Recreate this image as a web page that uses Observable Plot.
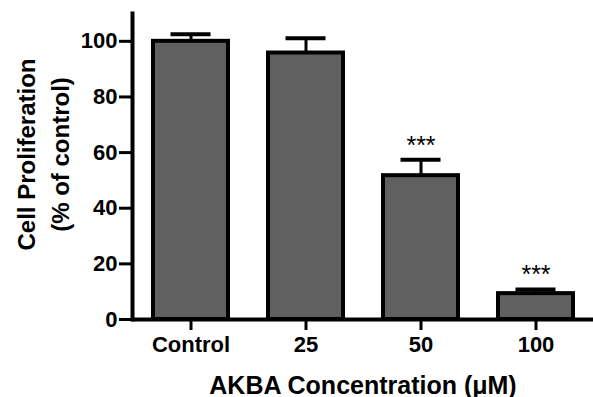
<!DOCTYPE html>
<html>
<head>
<meta charset="utf-8">
<script src="https://cdn.jsdelivr.net/npm/d3@7"></script>
<script src="https://cdn.jsdelivr.net/npm/@observablehq/plot@0.6"></script>
<style>
  html, body { margin: 0; padding: 0; background: white; }
</style>
</head>
<body>
<div id="chart"></div>
<script>
const categories = ["Control", "25", "50", "100"];
const means = [100, 95.8, 51.7, 9.3];
const sems = [2.5, 5.3, 5.7, 1.5];
const significance = ["", "", "***", "***"];
const yTicks = [0, 20, 40, 60, 80, 100];

const data = categories.map((c, i) => ({cat: c, mean: means[i], sem: sems[i], sig: significance[i]}));

const chart = Plot.plot({
  width: 593,
  height: 397,
  marginLeft: 132,
  marginRight: 0,
  marginTop: 13,
  marginBottom: 78,
  style: {fontFamily: "'Liberation Sans', Arial, sans-serif", fontWeight: "bold", background: "white", color: "black"},
  x: {domain: categories, paddingInner: 0.35, paddingOuter: 0.175, label: null},
  y: {domain: [0, 110], label: null},
  marks: [
    Plot.axisY({ticks: yTicks, tickSize: 13, tickPadding: 2, strokeWidth: 3, fontSize: 22, fontWeight: "bold", label: null}),
    Plot.axisX({tickSize: 11, tickPadding: 6, strokeWidth: 3, fontSize: 22, fontWeight: "bold", label: null}),
    Plot.ruleX(data, {x: "cat", y1: "mean", y2: d => d.mean + d.sem, strokeWidth: 3}),
    Plot.tickY(data, {x: "cat", y: d => d.mean + d.sem, strokeWidth: 4, inset: 17.5}),
    Plot.barY(data, {x: "cat", y: "mean", fill: "#606060", stroke: "black", strokeWidth: 4}),
    Plot.text(data, {x: "cat", y: d => d.mean + d.sem, text: "sig", dy: -14, fontSize: 25, fontWeight: "normal"}),
    Plot.frame({anchor: "left", strokeWidth: 4}),
    Plot.ruleY([0], {strokeWidth: 4}),
    Plot.text(["Cell Proliferation"], {frameAnchor: "left", textAnchor: "middle", lineAnchor: "middle", rotate: -90, dx: -105, dy: -12, fontSize: 24, fontWeight: "bold"}),
    Plot.text(["(% of control)"], {frameAnchor: "left", textAnchor: "middle", lineAnchor: "middle", rotate: -90, dx: -71, dy: -12, fontSize: 24, fontWeight: "bold"}),
    Plot.text(["AKBA Concentration (μM)"], {frameAnchor: "bottom", textAnchor: "middle", lineAnchor: "middle", dy: 66, fontSize: 25, fontWeight: "bold"})
  ]
});
document.getElementById("chart").appendChild(chart);
</script>
</body>
</html>
